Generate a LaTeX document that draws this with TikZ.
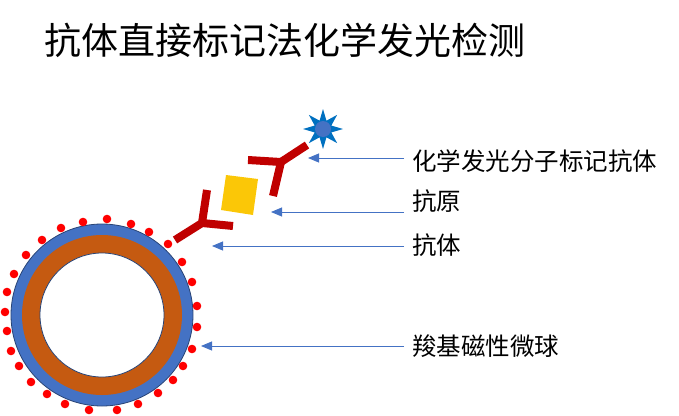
\documentclass[tikz,border=0pt]{standalone}
\usepackage{fontspec}
\setmainfont{Noto Sans CJK SC}
\usetikzlibrary{arrows.meta}
\definecolor{ab}{HTML}{C00000}
\definecolor{bl}{HTML}{4472C4}
\definecolor{br}{HTML}{C55A11}
\definecolor{st}{HTML}{0070C0}
\begin{document}
\begin{tikzpicture}[x=1pt,y=-1pt,
  lab/.style={anchor=west,font=\fontsize{24.5}{28}\selectfont,inner sep=0},
  ptr/.style={bl,line width=0.9pt,-{Triangle[length=11pt,width=9pt]}},
  anti/.style={ab,line width=8pt},
  dot/.style={fill=red,draw=none}]
\useasboundingbox (0,0) rectangle (679,415);
\node[anchor=west,inner sep=0,font=\fontsize{37}{40}\selectfont] (title) at (44,40) {抗体直接标记法化学发光检测};
% bead
\fill[bl] (102,315) circle (91);
\fill[br] (102,315) circle (80);
\draw[fill=white,draw=bl!60!black,line width=0.8pt] (102,315) circle (62);
\draw[bl!60!black,line width=0.8pt] (102,315) circle (91);
\foreach \p in {(107,219),(131,224),(149,232),(168,244),(182,262),(192,282),(197,306),(197,327),(192,349),(183,366),(173,380),(158,393),(138,404),(117,410),(89,410),(65,404),(47,394),(31,382),(19,366),(11,351),(7,331),(5,312),(7,292),(14,274),(26,255),(42,240),(61,228),(83,222)}
  \fill[dot] \p circle (4.3);
% antibody 1
\coordinate (a1) at (175,240);
\coordinate (j1) at (202,223);
\draw[anti] (a1) -- (j1) -- (207,190);
\draw[anti] (j1) -- (233,226);
% antigen
\fill[yellow!60!orange] (226,175) -- (258,179) -- (253,215) -- (221,210) -- cycle;
% antibody 2
\coordinate (j2) at (281,162);
\draw[anti] (273,196) -- (j2) -- (248,160);
\draw[anti] (j2) -- (307,145);
% star
\fill[st] plot[samples=17,domain=0:16,variable=\k] ({323+(mod(\k,2)==0 ? 20 : 9)*cos(22.5*\k)},{129+(mod(\k,2)==0 ? 20 : 9)*sin(22.5*\k)}) -- cycle;
\fill[bl] (323,129) circle (8);
% labels
\node[lab] (l1) at (412,161) {化学发光分子标记抗体};
\node[lab] (l2) at (412,201) {抗原};
\node[lab] (l3) at (412,245) {抗体};
\node[lab] (l4) at (412,346) {羧基磁性微球};
\coordinate (t1) at (308,158);
\coordinate (t2) at (271,212);
\coordinate (t3) at (212,246);
\coordinate (t4) at (201,346);
\draw[ptr] (404,158) -- (t1);
\draw[ptr] (404,212) -- (t2);
\draw[ptr] (404,246) -- (t3);
\draw[ptr] (404,346) -- (t4);
\end{tikzpicture}
\end{document}
